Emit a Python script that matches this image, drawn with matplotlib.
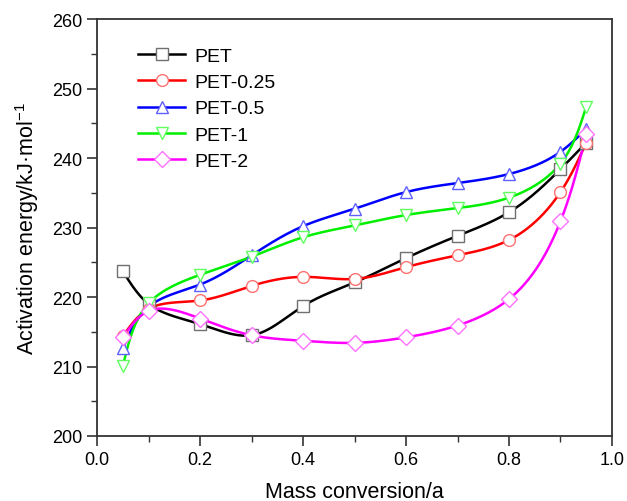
import matplotlib
matplotlib.use("Agg")
import matplotlib.pyplot as plt
import numpy as np
from matplotlib.ticker import MultipleLocator

plt.rcParams["font.family"] = ["Liberation Sans", "DejaVu Sans"]
plt.rcParams["mathtext.fontset"] = "custom"
plt.rcParams["mathtext.rm"] = "Liberation Sans"
plt.rcParams["mathtext.default"] = "regular"

conversion = [0.05, 0.1, 0.2, 0.3, 0.4, 0.5, 0.6, 0.7, 0.8, 0.9, 0.95]

pet = [223.7, 219.0, 216.1, 214.5, 218.7, 222.1, 225.6, 228.8, 232.2, 238.4, 242.2]
pet_025 = [214.4, 218.3, 219.5, 221.6, 222.9, 222.6, 224.3, 226.0, 228.2, 235.1, 242.2]
pet_05 = [212.7, 218.6, 221.8, 226.0, 230.2, 232.7, 235.1, 236.4, 237.7, 240.9, 244.2]
pet_1 = [210.1, 219.1, 223.2, 225.8, 228.6, 230.3, 231.8, 232.8, 234.3, 239.2, 247.4]
pet_2 = [214.2, 218.0, 216.9, 214.5, 213.7, 213.4, 214.2, 215.9, 219.7, 230.9, 243.4]

labels = ["PET", "PET-0.25", "PET-0.5", "PET-1", "PET-2"]
colors = ["#000000", "#ff0000", "#0000ff", "#00ee00", "#ff00ff"]
edge_colors = ["#707070", "#ff7070", "#6060ff", "#60ff60", "#ff70ff"]
markers = ["s", "o", "^", "v", "D"]

X_RANGE = (0.0, 1.0)
Y_RANGE = (200, 260)


def natural_coeffs(t, v):
    n = len(t)
    h = np.diff(t)
    a = np.zeros((n, n))
    b = np.zeros(n)
    a[0, 0] = a[-1, -1] = 1.0
    for i in range(1, n - 1):
        a[i, i - 1] = h[i - 1]
        a[i, i] = 2 * (h[i - 1] + h[i])
        a[i, i + 1] = h[i]
        b[i] = 3 * ((v[i + 1] - v[i]) / h[i] - (v[i] - v[i - 1]) / h[i - 1])
    return np.linalg.solve(a, b)


def eval_spline(t, v, c, ts):
    h = np.diff(t)
    idx = np.clip(np.searchsorted(t, ts) - 1, 0, len(t) - 2)
    dt = ts - t[idx]
    hi = h[idx]
    bb = (v[idx + 1] - v[idx]) / hi - hi * (2 * c[idx] + c[idx + 1]) / 3
    dd = (c[idx + 1] - c[idx]) / (3 * hi)
    return v[idx] + bb * dt + c[idx] * dt ** 2 + dd * dt ** 3


def smooth_curve(x, y, num=400):
    # parametric spline in screen-like units, only for drawing the connecting line
    x = np.asarray(x, float)
    y = np.asarray(y, float)
    xn = (x - X_RANGE[0]) / (X_RANGE[1] - X_RANGE[0]) * 515
    yn = (y - Y_RANGE[0]) / (Y_RANGE[1] - Y_RANGE[0]) * 417
    t = np.concatenate([[0], np.cumsum(np.hypot(np.diff(xn), np.diff(yn)))])
    ts = np.linspace(0, t[-1], num)
    xs = eval_spline(t, x, natural_coeffs(t, x), ts)
    ys = eval_spline(t, y, natural_coeffs(t, y), ts)
    return xs, ys


fig = plt.figure(figsize=(6.27, 5.02), dpi=100)
ax = fig.add_axes([0.155, 0.1295, 0.821, 0.8305])

series = [pet, pet_025, pet_05, pet_1, pet_2]
for values, label, color, ecolor, marker in zip(series, labels, colors, edge_colors, markers):
    ms = 8.5 if marker != "D" else 8
    xs, ys = smooth_curve(conversion, values)
    ax.plot(xs, ys, color=color, lw=1.8, zorder=2)
    ax.plot(conversion, values, ls="none", marker=marker, ms=ms,
            mfc="white", mec=ecolor, mew=1.0, zorder=3)
    ax.plot([], [], color=color, lw=1.8, marker=marker, ms=ms,
            mfc="white", mec=ecolor, mew=1.0, label=label)

ax.set_xlim(*X_RANGE)
ax.set_ylim(*Y_RANGE)
ax.xaxis.set_major_locator(MultipleLocator(0.2))
ax.xaxis.set_minor_locator(MultipleLocator(0.1))
ax.yaxis.set_major_locator(MultipleLocator(10))
ax.yaxis.set_minor_locator(MultipleLocator(5))
ax.xaxis.set_major_formatter(plt.FuncFormatter(lambda v, p: f"{v:.1f}"))
ax.tick_params(which="major", direction="out", length=7, width=1.2, labelsize=13,
               pad=4, color="#333333")
ax.tick_params(which="minor", direction="out", length=4, width=1.0, color="#333333")
for spine in ax.spines.values():
    spine.set_linewidth(1.3)
    spine.set_color("#333333")

ax.set_xlabel("Mass conversion/a", fontsize=15.5, labelpad=9)
ax.set_ylabel("Activation energy/kJ·mol$^{−1}$", fontsize=15.5, labelpad=8)

ax.legend(loc="upper left", bbox_to_anchor=(0.08, 0.933), frameon=False, fontsize=14,
          handlelength=2.4, labelspacing=0.45, handletextpad=0.5, borderpad=0,
          borderaxespad=0)

fig.savefig("out.png", dpi=100)
